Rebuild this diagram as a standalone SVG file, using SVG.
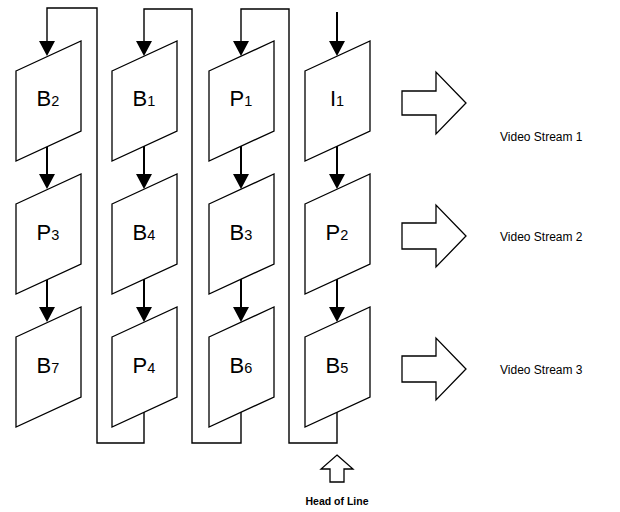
<svg xmlns="http://www.w3.org/2000/svg" width="620" height="512" viewBox="0 0 620 512">
<defs>
<style>
.frame{fill:#fff;stroke:#000;stroke-width:1.3}
.lbl{font-family:"Liberation Sans",Arial,sans-serif;font-size:22px;fill:#000}
.sub{font-size:14.5px}
.flow{fill:none;stroke:#000;stroke-width:2}
.loop{fill:none;stroke:#000;stroke-width:1.4}
.big{fill:#fff;stroke:#000;stroke-width:1.3}
.vs{font-family:"Liberation Sans",Arial,sans-serif;font-size:12px;fill:#000}
.hol{font-family:"Liberation Sans",Arial,sans-serif;font-size:10.5px;font-weight:bold;fill:#000}
</style>
</defs>
<rect width="620" height="512" fill="#fff"/>
<g id="connectors">
<path class="loop" d="M144,412 V443 H97 V8 H47 V41"/>
<path class="loop" d="M241,412 V443 H192 V9 H144 V41"/>
<path class="loop" d="M337,412 V443 H289 V9 H241 V41"/>
<path class="flow" d="M337,12 V41"/>
<path d="M39,41 H55 L47,56 Z"/>
<path d="M136,41 H152 L144,56 Z"/>
<path d="M233,41 H249 L241,56 Z"/>
<path d="M329,41 H345 L337,56 Z"/>
<path class="flow" d="M47,146 V175"/><path d="M39,174 H55 L47,189 Z"/>
<path class="flow" d="M144,146 V175"/><path d="M136,174 H152 L144,189 Z"/>
<path class="flow" d="M241,146 V175"/><path d="M233,174 H249 L241,189 Z"/>
<path class="flow" d="M337,146 V175"/><path d="M329,174 H345 L337,189 Z"/>
<path class="flow" d="M47,279 V308"/><path d="M39,307 H55 L47,322 Z"/>
<path class="flow" d="M144,279 V308"/><path d="M136,307 H152 L144,322 Z"/>
<path class="flow" d="M241,279 V308"/><path d="M233,307 H249 L241,322 Z"/>
<path class="flow" d="M337,279 V308"/><path d="M329,307 H345 L337,322 Z"/>
</g>
<g id="B2"><polygon class="frame" points="16,71 81,41 81,131 16,161"/><text class="lbl" x="48" y="106" text-anchor="middle">B<tspan class="sub">2</tspan></text></g>
<g id="B1"><polygon class="frame" points="112,71 177,41 177,131 112,161"/><text class="lbl" x="144" y="106" text-anchor="middle">B<tspan class="sub">1</tspan></text></g>
<g id="P1"><polygon class="frame" points="209,71 274,41 274,131 209,161"/><text class="lbl" x="241" y="106" text-anchor="middle">P<tspan class="sub">1</tspan></text></g>
<g id="I1"><polygon class="frame" points="305,71 370,41 370,131 305,161"/><text class="lbl" x="337" y="106" text-anchor="middle">I<tspan class="sub">1</tspan></text></g>
<g id="P3"><polygon class="frame" points="16,204 81,174 81,264 16,294"/><text class="lbl" x="48" y="240" text-anchor="middle">P<tspan class="sub">3</tspan></text></g>
<g id="B4"><polygon class="frame" points="112,204 177,174 177,264 112,294"/><text class="lbl" x="144" y="240" text-anchor="middle">B<tspan class="sub">4</tspan></text></g>
<g id="B3"><polygon class="frame" points="209,204 274,174 274,264 209,294"/><text class="lbl" x="241" y="240" text-anchor="middle">B<tspan class="sub">3</tspan></text></g>
<g id="P2"><polygon class="frame" points="305,204 370,174 370,264 305,294"/><text class="lbl" x="337" y="240" text-anchor="middle">P<tspan class="sub">2</tspan></text></g>
<g id="B7"><polygon class="frame" points="16,337 81,307 81,397 16,427"/><text class="lbl" x="48" y="373" text-anchor="middle">B<tspan class="sub">7</tspan></text></g>
<g id="P4"><polygon class="frame" points="112,337 177,307 177,397 112,427"/><text class="lbl" x="144" y="373" text-anchor="middle">P<tspan class="sub">4</tspan></text></g>
<g id="B6"><polygon class="frame" points="209,337 274,307 274,397 209,427"/><text class="lbl" x="241" y="373" text-anchor="middle">B<tspan class="sub">6</tspan></text></g>
<g id="B5"><polygon class="frame" points="305,337 370,307 370,397 305,427"/><text class="lbl" x="337" y="373" text-anchor="middle">B<tspan class="sub">5</tspan></text></g>
<g id="stream1"><polygon class="big" points="402,91 436,91 436,72 466,103 436,134 436,115 402,115"/><text class="vs" x="500" y="141">Video Stream 1</text></g>
<g id="stream2"><polygon class="big" points="402,223 436,223 436,205 466,236 436,267 436,249 402,249"/><text class="vs" x="500" y="241">Video Stream 2</text></g>
<g id="stream3"><polygon class="big" points="402,356 436,356 436,338 466,369 436,400 436,382 402,382"/><text class="vs" x="500" y="374">Video Stream 3</text></g>
<g id="head"><polygon class="big" points="337,455 353,469 344,469 344,482 330,482 330,469 321,469"/><text class="hol" x="337" y="505" text-anchor="middle">Head of Line</text></g>
</svg>
